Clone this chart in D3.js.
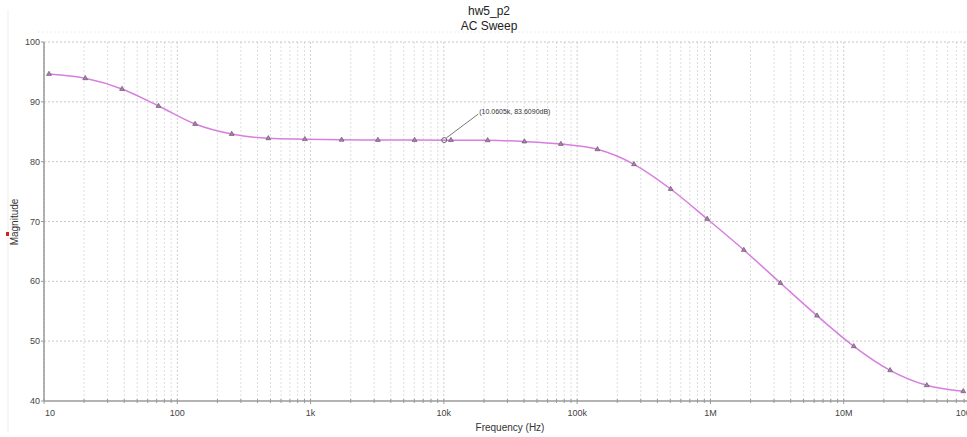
<!DOCTYPE html>
<html>
<head>
<meta charset="utf-8">
<script src="https://cdn.jsdelivr.net/npm/d3@7"></script>
<style>
  body { margin: 0; background: #fff; }
  svg { font-family: "Liberation Sans", Arial, sans-serif; display: block; }
  .tick-label { font-size: 9px; fill: #444; }
</style>
</head>
<body>
<div class="ac-chart"></div>
<script>
"use strict";

// sweep samples (marker positions)
const freqs = [10.9, 20.4, 38.5, 72.3, 136, 256, 482, 906, 1710, 3200, 6030, 11300,
  21300, 40200, 75500, 142000, 267000, 503000, 946000, 1.78e6, 3.35e6, 6.3e6,
  1.19e7, 2.23e7, 4.2e7, 7.89e7];
const magnitudes = [94.65, 93.93, 92.14, 89.3, 86.29, 84.62, 83.9, 83.75, 83.65, 83.62,
  83.61, 83.6, 83.56, 83.36, 82.95, 82.06, 79.56, 75.43, 70.42, 65.24, 59.72, 54.26,
  49.14, 45.13, 42.62, 41.62];

const xTicks = [10, 100, 1e3, 1e4, 1e5, 1e6, 1e7, 1e8];
const xTickLabels = ["10", "100", "1k", "10k", "100k", "1M", "10M", "100M"];
const yTicks = [40, 50, 60, 70, 80, 90, 100];

const cursor = { f: 10060.5, mag: 83.609, label: "(10.0605k, 83.6090dB)" };

const width = 967;
const height = 437;

const svg = d3.select(".ac-chart").append("svg")
  .attr("width", width)
  .attr("height", height);

const x = d3.scaleLog().domain([10, 1e8]).range([44, 977]);
const y = d3.scaleLinear().domain([40, 100]).range([401, 42]);

// faint panel frame
svg.append("line").attr("x1", 8).attr("x2", 8).attr("y1", 10).attr("y2", 433)
  .style("stroke", "#eeeeee");
svg.append("line").attr("x1", 38).attr("x2", width).attr("y1", 32).attr("y2", 32)
  .style("stroke", "#eeeeee").style("stroke-dasharray", "2,2");

// vertical grid (every minor)
svg.selectAll(".vgrid")
  .data(x.ticks())
  .enter()
  .append("line")
  .attr("class", "vgrid")
  .attr("x1", (d) => x(d))
  .attr("x2", (d) => x(d))
  .attr("y1", 42)
  .attr("y2", 401)
  .style("stroke", (d) => (xTicks.includes(d) ? "#cfcfcf" : "#dedede"))
  .style("stroke-dasharray", "2,2");

// horizontal grid
svg.selectAll(".hgrid")
  .data(yTicks.slice(1))
  .enter()
  .append("line")
  .attr("class", "hgrid")
  .attr("x1", 44)
  .attr("x2", width)
  .attr("y1", (d) => y(d))
  .attr("y2", (d) => y(d))
  .style("stroke", "#c8c8c8")
  .style("stroke-dasharray", "2,2");

// axes lines
svg.append("line").attr("x1", 44).attr("x2", 44).attr("y1", 42).attr("y2", 401)
  .style("stroke", "#9a9a9a").style("stroke-width", 1.5);
svg.append("line").attr("x1", 44).attr("x2", width).attr("y1", 401).attr("y2", 401)
  .style("stroke", "#9a9a9a").style("stroke-width", 1.5);

// x ticks
svg.selectAll(".xtick")
  .data(x.ticks())
  .enter()
  .append("line")
  .attr("x1", (d) => x(d))
  .attr("x2", (d) => x(d))
  .attr("y1", 399)
  .attr("y2", (d) => (xTicks.includes(d) ? 404 : 403))
  .style("stroke", "#9a9a9a");

svg.selectAll(".xlabel")
  .data(xTicks)
  .enter()
  .append("text")
  .attr("class", "tick-label")
  .attr("x", (d, i) => (i === 0 ? x(d) + 1 : i === xTicks.length - 1 ? x(d) - 10 : x(d)))
  .attr("y", 416)
  .attr("text-anchor", (d, i) => (i === 0 ? "start" : "middle"))
  .text((d, i) => xTickLabels[i]);

// y ticks
svg.selectAll(".ytick")
  .data(yTicks)
  .enter()
  .append("line")
  .attr("x1", 41)
  .attr("x2", 44)
  .attr("y1", (d) => y(d))
  .attr("y2", (d) => y(d))
  .style("stroke", "#9a9a9a");

svg.selectAll(".ylabel")
  .data(yTicks)
  .enter()
  .append("text")
  .attr("class", "tick-label")
  .attr("x", 40)
  .attr("y", (d) => y(d) + 3)
  .attr("text-anchor", "end")
  .text((d) => d);

// titles
svg.append("text").attr("x", 489).attr("y", 15).attr("text-anchor", "middle")
  .style("font-size", "12px").style("fill", "#222").text("hw5_p2");
svg.append("text").attr("x", 489).attr("y", 30).attr("text-anchor", "middle")
  .style("font-size", "12px").style("fill", "#222").text("AC Sweep");

svg.append("text").attr("x", 510).attr("y", 431).attr("text-anchor", "middle")
  .style("font-size", "10px").style("fill", "#333").text("Frequency (Hz)");

svg.append("text")
  .attr("transform", "translate(18,222) rotate(-90)")
  .attr("text-anchor", "middle")
  .style("font-size", "10px").style("fill", "#333")
  .text("Magnitude");
svg.append("rect").attr("x", 6).attr("y", 232).attr("width", 3).attr("height", 4)
  .style("fill", "#d42020");

// curve
const points = freqs.map((f, i) => ({ f: f, mag: magnitudes[i] }));

const line = d3.line()
  .x((d) => x(d.f))
  .y((d) => y(d.mag))
  .curve(d3.curveMonotoneX);

svg.append("path")
  .datum(points)
  .attr("d", line)
  .style("fill", "none")
  .style("stroke", "#d77fe0")
  .style("stroke-width", 1.5);

svg.selectAll(".marker")
  .data(points)
  .enter()
  .append("path")
  .attr("transform", (d) => `translate(${x(d.f)},${y(d.mag)})`)
  .attr("d", d3.symbol(d3.symbolTriangle).size(10))
  .style("fill", "#a585a5")
  .style("stroke", "#6f566f")
  .style("stroke-width", 0.7);

// cursor annotation
const cx = x(cursor.f);
const cy = y(cursor.mag);
svg.append("circle").attr("cx", cx).attr("cy", cy).attr("r", 2.5)
  .style("fill", "none").style("stroke", "#666");
svg.append("line").attr("x1", cx + 2).attr("y1", cy - 2).attr("x2", cx + 34).attr("y2", cy - 26)
  .style("stroke", "#777");
svg.append("text").attr("x", cx + 35).attr("y", cy - 26)
  .style("font-size", "7px").style("fill", "#333")
  .text(cursor.label);
</script>
</body>
</html>
